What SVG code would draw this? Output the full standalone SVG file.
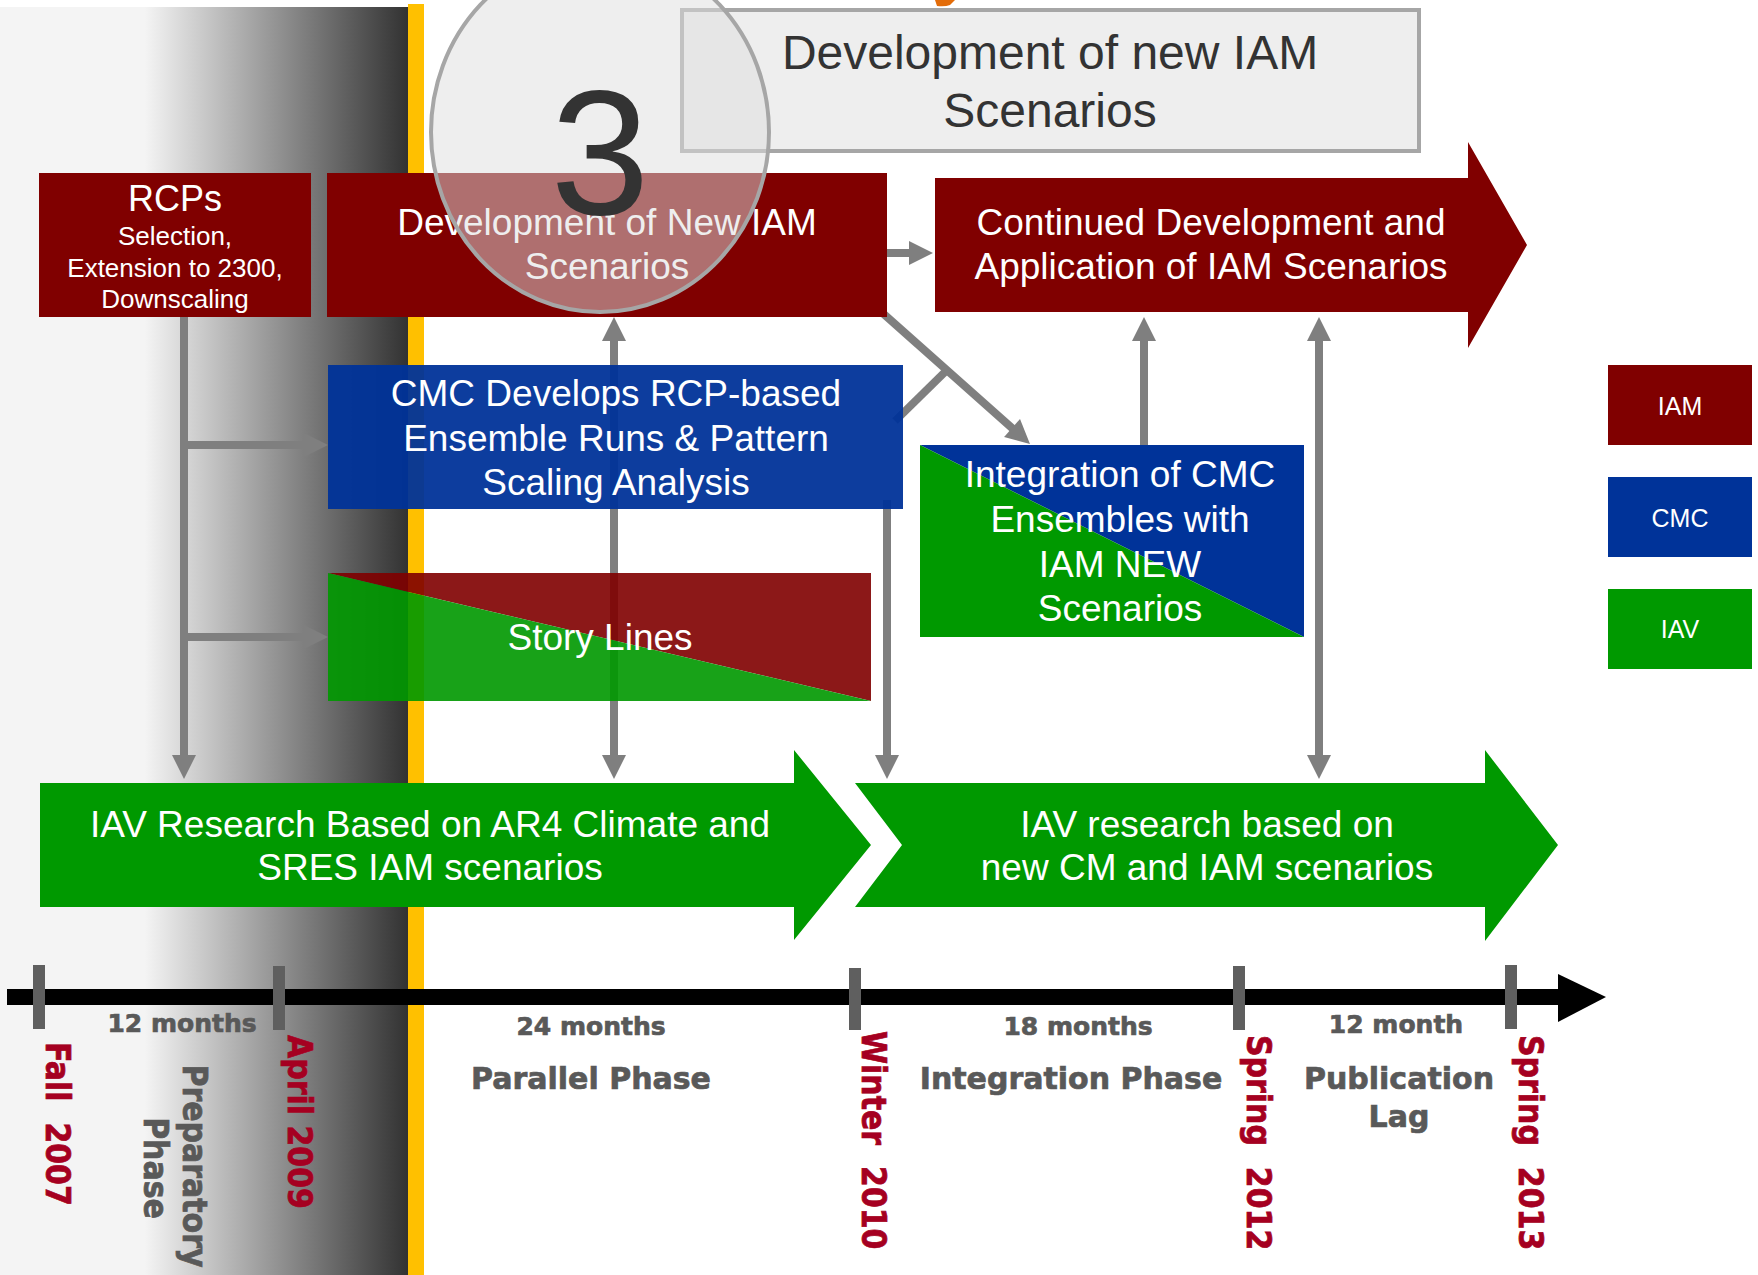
<svg xmlns="http://www.w3.org/2000/svg" width="1758" height="1275" viewBox="0 0 1758 1275">
  <defs>
    <linearGradient id="fade" x1="0" y1="0" x2="408" y2="0" gradientUnits="userSpaceOnUse">
      <stop offset="0" stop-color="#f4f4f4"/>
      <stop offset="0.355" stop-color="#f4f4f4"/>
      <stop offset="1" stop-color="#323232"/>
    </linearGradient>
    <marker id="head" markerUnits="userSpaceOnUse" markerWidth="24" markerHeight="24" refX="1" refY="12" orient="auto-start-reverse" overflow="visible">
      <path d="M0,0 L24,12 L0,24 Z" fill="#7f7f7f"/>
    </marker>
    <style>
      .box { font-family: "Liberation Sans", Arial, sans-serif; fill: #ffffff; text-anchor: middle; }
      .t37 { font-size: 37px; }
      .t26 { font-size: 26px; }
      .t25 { font-size: 25px; }
      .link { stroke: #7f7f7f; stroke-width: 8; fill: none; }
      .arr { marker-end: url(#head); }
      .both { marker-start: url(#head); marker-end: url(#head); }
      .span { font-family: "DejaVu Sans", Verdana, sans-serif; font-weight: bold; fill: #595959; stroke: #595959; stroke-width: 0.7; text-anchor: middle; }
      .s25 { font-size: 25px; }
      .s30 { font-size: 30px; }
      .date { font-family: "DejaVu Sans", Verdana, sans-serif; font-weight: bold; font-size: 30px; fill: #a50021; stroke: #a50021; stroke-width: 0.7; white-space: pre; }
      .tick { fill: #5f5f5f; }
      .iam { fill: #800000; }
      .cmc { fill: #003399; }
      .iav { fill: #009900; }
    </style>
  </defs>

  <rect x="0" y="0" width="1758" height="1275" fill="#ffffff"/>

  <!-- preparatory period shading and the start of the parallel phase -->
  <rect x="0" y="7" width="408" height="1268" fill="url(#fade)"/>
  <rect x="408" y="4" width="16" height="1271" fill="#ffc000"/>
  <path d="M935,0 H955 L950,5 Q945,7 937,6 Z" fill="#e36c09"/>

  <!-- heading box -->
  <g id="heading">
    <rect x="682" y="10" width="737" height="141" fill="#eeeeee" stroke="#a6a6a6" stroke-width="4"/>
    <text class="box" x="1050" y="69" font-size="48" style="fill:#333333">Development of new IAM</text>
    <text class="box" x="1050" y="127" font-size="48" style="fill:#333333">Scenarios</text>
  </g>

  <!-- connectors -->
  <g id="connectors">
    <line class="link arr" x1="184" y1="317" x2="184" y2="756"/>
    <line class="link arr" x1="184" y1="445" x2="305" y2="445"/>
    <line class="link arr" x1="184" y1="637" x2="305" y2="637"/>
    <line class="link both" x1="614" y1="340" x2="614" y2="756"/>
    <line class="link arr" x1="880" y1="253" x2="910" y2="253"/>
    <line class="link arr" x1="882" y1="312.5" x2="1012.8" y2="428.7"/>
    <line class="link" x1="895" y1="421" x2="948" y2="369"/>
    <line class="link arr" x1="887" y1="500" x2="887" y2="756"/>
    <line class="link arr" x1="1144" y1="450" x2="1144" y2="340"/>
    <line class="link both" x1="1319" y1="340" x2="1319" y2="756"/>
  </g>

  <!-- RCPs -->
  <g id="rcps">
    <rect class="iam" x="39" y="173" width="272" height="144"/>
    <text class="box" x="175" y="211" font-size="36">RCPs</text>
    <text class="box t26" x="175" y="245">Selection,</text>
    <text class="box t26" x="175" y="277">Extension to 2300,</text>
    <text class="box t26" x="175" y="308">Downscaling</text>
  </g>

  <!-- IAM development -->
  <g id="iam-dev">
    <rect class="iam" x="327" y="173" width="560" height="144"/>
    <text class="box t37" x="607" y="235">Development of New IAM</text>
    <text class="box t37" x="607" y="279">Scenarios</text>
  </g>

  <!-- continued IAM work -->
  <g id="iam-continued">
    <polygon class="iam" points="935,178 1468,178 1468,142 1527,245 1468,348 1468,312 935,312"/>
    <text class="box t37" x="1211" y="235">Continued Development and</text>
    <text class="box t37" x="1211" y="279">Application of IAM Scenarios</text>
  </g>

  <!-- CMC ensembles -->
  <g id="cmc-runs">
    <rect class="cmc" x="328" y="365" width="575" height="144" opacity="0.95"/>
    <text class="box t37" x="616" y="406">CMC Develops RCP-based</text>
    <text class="box t37" x="616" y="451">Ensemble Runs &amp; Pattern</text>
    <text class="box t37" x="616" y="495">Scaling Analysis</text>
  </g>

  <!-- story lines (shared IAM / IAV) -->
  <g id="story-lines">
    <g opacity="0.9">
      <polygon class="iam" points="328,573 871,573 871,701"/>
      <polygon class="iav" points="328,573 871,701 328,701"/>
    </g>
    <text class="box t37" x="600" y="650">Story Lines</text>
  </g>

  <!-- integration (shared CMC / IAV) -->
  <g id="integration">
    <polygon class="cmc" points="920,445 1304,445 1304,637"/>
    <polygon class="iav" points="920,445 1304,637 920,637"/>
    <text class="box t37" x="1120" y="487">Integration of CMC</text>
    <text class="box t37" x="1120" y="532">Ensembles with</text>
    <text class="box t37" x="1120" y="577">IAM NEW</text>
    <text class="box t37" x="1120" y="621">Scenarios</text>
  </g>

  <!-- IAV research, first stage -->
  <g id="iav-ar4">
    <polygon class="iav" points="40,783 794,783 794,750 871,845 794,940 794,907 40,907"/>
    <text class="box t37" x="430" y="837">IAV Research Based on AR4 Climate and</text>
    <text class="box t37" x="430" y="880">SRES IAM scenarios</text>
  </g>

  <!-- IAV research, second stage -->
  <g id="iav-new">
    <polygon class="iav" points="855,783 1485,783 1485,750 1558,845 1485,941 1485,907 855,907 902,845"/>
    <text class="box t37" x="1207" y="837">IAV research based on</text>
    <text class="box t37" x="1207" y="880">new CM and IAM scenarios</text>
  </g>

  <!-- legend -->
  <g id="legend">
    <rect class="iam" x="1608" y="365" width="144" height="80"/>
    <text class="box t25" x="1680" y="415">IAM</text>
    <rect class="cmc" x="1608" y="477" width="144" height="80"/>
    <text class="box t25" x="1680" y="527">CMC</text>
    <rect class="iav" x="1608" y="589" width="144" height="80"/>
    <text class="box t25" x="1680" y="638">IAV</text>
  </g>

  <!-- phase badge -->
  <g id="badge">
    <ellipse cx="600" cy="132" rx="169" ry="180" fill="#dddddd" fill-opacity="0.5" stroke="#a6a6a6" stroke-width="4"/>
    <text x="600" y="214" font-family="Liberation Sans, Arial, sans-serif" font-size="178" fill="#333333" text-anchor="middle">3</text>
  </g>

  <!-- timeline -->
  <g id="timeline">
    <rect x="7" y="989" width="1553" height="16" fill="#000000"/>
    <polygon points="1558,974 1606,997 1558,1022" fill="#000000"/>
    <rect class="tick" x="33" y="965" width="12" height="64"/>
    <rect class="tick" x="273" y="966" width="12" height="64"/>
    <rect class="tick" x="849" y="968" width="12" height="62"/>
    <rect class="tick" x="1233" y="966" width="12" height="64"/>
    <rect class="tick" x="1505" y="965" width="12" height="64"/>

    <text class="span s25" x="182" y="1032">12 months</text>
    <text class="span s25" x="591" y="1035">24 months</text>
    <text class="span s25" x="1078" y="1035">18 months</text>
    <text class="span s25" x="1396" y="1033">12 month</text>
    <text class="span s30" x="591" y="1089">Parallel Phase</text>
    <text class="span s30" x="1071" y="1089">Integration Phase</text>
    <text class="span s30" x="1399" y="1089">Publication</text>
    <text class="span s30" x="1399" y="1127">Lag</text>
    <text class="span s30" transform="translate(183,1166) rotate(90) scale(1,1.1)">Preparatory</text>
    <text class="span s30" transform="translate(144,1168) rotate(90) scale(1,1.1)">Phase</text>

    <text class="date" xml:space="preserve" transform="translate(46,1042) rotate(90) scale(1,1.1)">Fall  2007</text>
    <text class="date" xml:space="preserve" transform="translate(288,1035) rotate(90) scale(1,1.1)">April 2009</text>
    <text class="date" xml:space="preserve" transform="translate(862,1031) rotate(90) scale(1,1.1)">Winter  2010</text>
    <text class="date" xml:space="preserve" transform="translate(1247,1035) rotate(90) scale(1,1.1)">Spring  2012</text>
    <text class="date" xml:space="preserve" transform="translate(1519,1035) rotate(90) scale(1,1.1)">Spring  2013</text>
  </g>
</svg>
